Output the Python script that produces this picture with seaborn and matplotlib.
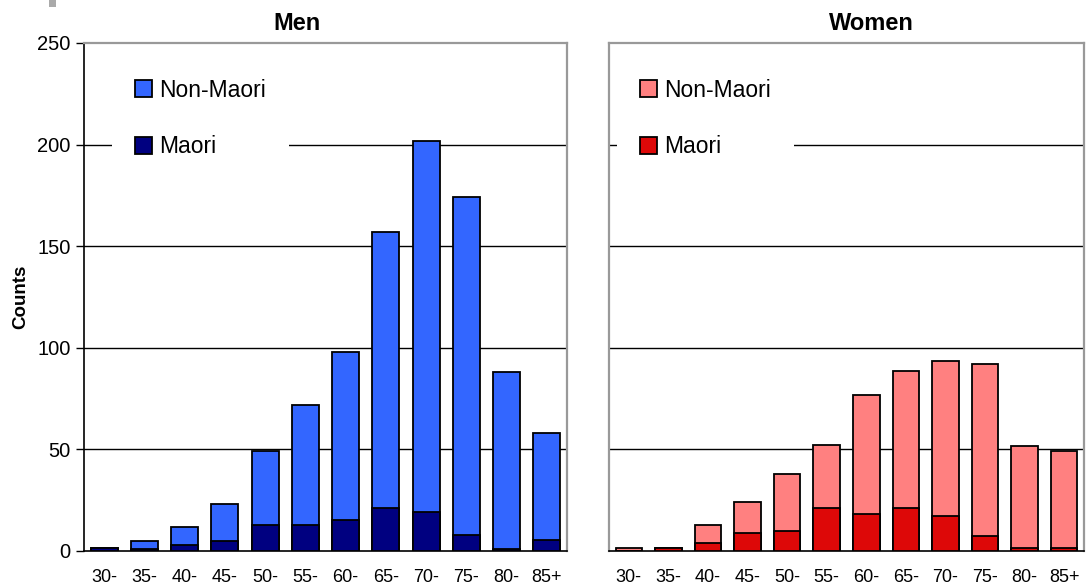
import numpy as np
import seaborn as sns
import matplotlib.pyplot as plt
from matplotlib.patches import Patch, Rectangle

age_groups = ["30-", "35-", "40-", "45-", "50-", "55-", "60-", "65-", "70-", "75-", "80-", "85+"]

men_maori = np.array([1.5, 1, 3, 5, 13, 13, 15.5, 21, 19, 8, 1, 5.5])
men_non_maori = np.array([0, 4, 9, 18, 36, 59, 82.5, 136, 183, 166, 87, 52.5])

women_maori = np.array([0, 1.5, 4, 9, 10, 21, 18, 21, 17, 7.5, 1.5, 1.5])
women_non_maori = np.array([1.6, 0, 9, 15, 28, 31, 59, 67.5, 76.5, 84.5, 50, 47.5])

MEN_COLORS = ("#3366FF", "#000080")
WOMEN_COLORS = ("#FF8080", "#DD0808")
GREY = "#999999"


def draw_panel(ax, non_maori, maori, colors, title, title_x, legend_x):
    totals = non_maori + maori
    sns.barplot(x=age_groups, y=totals, color=colors[0], saturation=1, width=0.67,
                edgecolor="black", linewidth=1.3, ax=ax, zorder=3)
    sns.barplot(x=age_groups, y=maori, color=colors[1], saturation=1, width=0.67,
                edgecolor="black", linewidth=1.3, ax=ax, zorder=4)

    ax.set_ylim(0, 250)
    ax.set_xlim(-0.5, len(age_groups) - 0.5)
    ax.set_yticks([0, 50, 100, 150, 200, 250])
    for y in [50, 100, 150, 200]:
        ax.axhline(y, color="black", lw=1.0, zorder=1)

    # category ticks sit between bars, labels centred under bars
    ax.set_xticks(np.arange(-0.5, len(age_groups)), minor=True)
    ax.tick_params(axis="x", which="major", length=0, pad=13, labelsize=13, labelcolor="black")
    ax.tick_params(axis="x", which="minor", length=4, width=1.0, direction="out", color="black")
    ax.set_xlabel("")

    for side in ["top", "right", "left"]:
        ax.spines[side].set_color(GREY)
        ax.spines[side].set_linewidth(1.6)
    ax.spines["bottom"].set_color("black")
    ax.spines["bottom"].set_linewidth(1.2)

    ax.set_title(title, fontsize=17, fontweight="bold", x=title_x, pad=9, color="black")

    handles = [Patch(facecolor=colors[0], edgecolor="black", linewidth=1.3, label="Non-Maori"),
               Patch(facecolor=colors[1], edgecolor="black", linewidth=1.3, label="Maori")]
    leg = ax.legend(handles=handles, loc="upper left", bbox_to_anchor=(legend_x, 0.975),
                    fontsize=16.5, frameon=True, facecolor="white", edgecolor="none",
                    fancybox=False, framealpha=1, borderpad=1.0, borderaxespad=0,
                    handlelength=0.75, handleheight=0.75, handletextpad=0.3,
                    labelspacing=1.47, labelcolor="black")
    leg.set_zorder(5)


def main():
    sns.set_theme(style="white")
    plt.rcParams["font.family"] = ["Liberation Sans", "DejaVu Sans"]
    plt.rcParams["text.color"] = "black"
    plt.rcParams["axes.labelcolor"] = "black"

    fig = plt.figure(figsize=(10.86, 5.88), dpi=100)
    ax_men = fig.add_axes([84 / 1086, 1 - 551 / 588, 483 / 1086, 508 / 588])
    ax_women = fig.add_axes([609 / 1086, 1 - 551 / 588, 475 / 1086, 508 / 588])

    draw_panel(ax_men, men_non_maori, men_maori, MEN_COLORS, "Men", 0.441, 0.058)
    draw_panel(ax_women, women_non_maori, women_maori, WOMEN_COLORS, "Women", 0.552, 0.017)

    ax_men.spines["left"].set_color("black")
    ax_men.spines["left"].set_linewidth(1.2)
    ax_men.tick_params(axis="y", which="major", left=True, length=6, width=1.0,
                       direction="out", color="black", labelcolor="black", pad=3.5,
                       labelsize=14.5)
    ax_men.set_ylabel("Counts", fontsize=13.5, fontweight="bold", labelpad=6)

    ax_women.tick_params(axis="y", left=False, labelleft=False)
    ax_women.set_ylabel("")

    # small grey mark in the top-left corner of the original
    fig.add_artist(Rectangle((49 / 1086, 1 - 7 / 588), 7 / 1086, 7 / 588,
                             transform=fig.transFigure, facecolor="#AAAAAA", edgecolor="none"))

    fig.savefig("out.png", dpi=100)
    plt.close(fig)


if __name__ == "__main__":
    main()
